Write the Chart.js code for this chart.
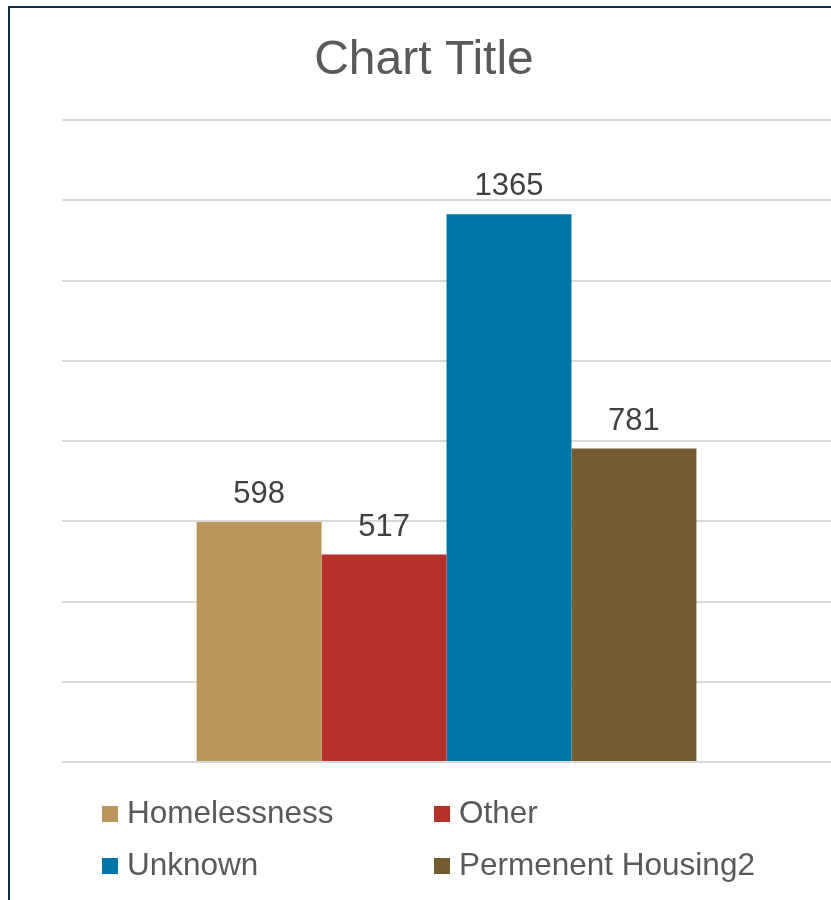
<!DOCTYPE html>
<html lang="en">
<head>
<meta charset="utf-8">
<title>Chart Title</title>
<script src="https://cdn.jsdelivr.net/npm/chart.js@4.4.1/dist/chart.umd.min.js"></script>
<style>
  html, body { margin: 0; padding: 0; background: #fff; overflow: hidden; }
  /* dark outline of the chart box, runs off the right and bottom edges */
  #frame {
    position: absolute; left: 8px; top: 6px; width: 900px; height: 1000px;
    border-left: 2px solid #0e2c46; border-top: 2px solid #0e2c46;
  }
  #chart { position: absolute; left: 0; top: 0; }
</style>
</head>
<body>
<div id="frame"></div>
<canvas id="chart" width="831" height="900"></canvas>
<script>
const categories = [""];
const seriesNames = ["Homelessness", "Other", "Unknown", "Permenent Housing2"];
const homelessness = [598];
const other = [517];
const unknown = [1365];
const permanentHousing = [781];
const seriesColors = ["#b9975b", "#b7312c", "#0076a8", "#735c32"];
const yMax = 1600;
const yStep = 200;

const FONT = '"Liberation Sans", Arial, sans-serif';

// title is centered on the whole box, not on the plot
const chartTitle = {
  id: "chartTitle",
  afterDraw(chart) {
    const ctx = chart.ctx;
    ctx.save();
    ctx.font = `48px ${FONT}`;
    ctx.fillStyle = "#595959";
    ctx.textAlign = "center";
    ctx.textBaseline = "alphabetic";
    ctx.fillText("Chart Title", 424, 74);
    ctx.restore();
  }
};

// value above each bar
const valueLabels = {
  id: "valueLabels",
  afterDatasetsDraw(chart) {
    const ctx = chart.ctx;
    ctx.save();
    ctx.font = `31px ${FONT}`;
    ctx.fillStyle = "#404040";
    ctx.textAlign = "center";
    ctx.textBaseline = "alphabetic";
    chart.data.datasets.forEach((ds, i) => {
      chart.getDatasetMeta(i).data.forEach((bar, j) => {
        ctx.fillText(String(ds.data[j]), bar.x, bar.y - 19);
      });
    });
    ctx.restore();
  }
};

// legend in two fixed columns
const gridLegend = {
  id: "gridLegend",
  afterDraw(chart) {
    const ctx = chart.ctx;
    const cols = [102, 434];
    const rows = [823, 875];
    ctx.save();
    ctx.font = `31.5px ${FONT}`;
    ctx.textAlign = "left";
    ctx.textBaseline = "alphabetic";
    chart.data.datasets.forEach((ds, i) => {
      const x = cols[i % 2];
      const y = rows[Math.floor(i / 2)];
      ctx.fillStyle = ds.backgroundColor;
      ctx.fillRect(x, y - 17, 16, 16);
      ctx.fillStyle = "#595959";
      ctx.fillText(ds.label, x + 25, y);
    });
    ctx.restore();
  }
};

const seriesData = [homelessness, other, unknown, permanentHousing];

new Chart(document.getElementById("chart"), {
  type: "bar",
  data: {
    labels: categories,
    datasets: seriesNames.map((name, i) => ({
      label: name,
      data: seriesData[i],
      backgroundColor: seriesColors[i],
      borderWidth: 0
    }))
  },
  options: {
    responsive: false,
    animation: false,
    layout: { padding: { left: 62, right: 0, top: 120, bottom: 138 } },
    datasets: { bar: { categoryPercentage: 0.65, barPercentage: 1 } },
    plugins: {
      legend: { display: false },
      title: { display: false },
      tooltip: { enabled: false }
    },
    scales: {
      x: { display: false },
      y: {
        min: 0,
        max: yMax,
        ticks: { display: false, stepSize: yStep },
        grid: { color: "#d9d9d9", lineWidth: 2, drawTicks: false },
        border: { display: false }
      }
    }
  },
  plugins: [chartTitle, valueLabels, gridLegend]
});
</script>
</body>
</html>
